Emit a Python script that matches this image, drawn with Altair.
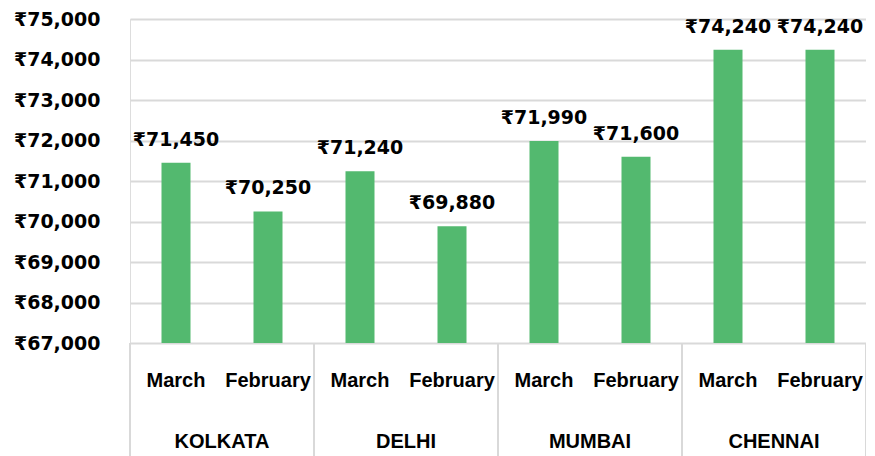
import altair as alt
import pandas as pd

cities = ["KOLKATA", "DELHI", "MUMBAI", "CHENNAI"]
months = ["March", "February"]
values = [71450, 70250, 71240, 69880, 71990, 71600, 74240, 74240]
y_ticks = [67000, 68000, 69000, 70000, 71000, 72000, 73000, 74000, 75000]

rows = []
for i, v in enumerate(values):
    rows.append({"idx": i, "city": cities[i // 2], "month": months[i % 2], "value": v,
                 "label": "₹" + f"{v:,}"})
df = pd.DataFrame(rows)
city_df = pd.DataFrame({"city": cities, "pos": [2 * c + 0.5 for c in range(len(cities))]})
sep_df = pd.DataFrame({"pos": [2 * c - 0.5 for c in range(len(cities) + 1)]})

TEXT_FONT = "Liberation Sans"
NUM_FONT = "DejaVu Sans"
GREEN = "#53B96F"
GRID = "#D9D9D9"

xscale = alt.Scale(domain=[-0.5, 7.5], nice=False, zero=False, padding=0)
yscale = alt.Scale(domain=[67000, 75000], nice=False, zero=False)

base = alt.Chart(df)

bars = base.mark_bar(color=GREEN, size=29, clip=True).encode(
    x=alt.X("idx:Q", scale=xscale, axis=None),
    y=alt.Y("value:Q", scale=yscale, title=None,
            axis=alt.Axis(values=y_ticks, labelExpr="'₹' + format(datum.value, ',')",
                          domain=False, ticks=False, labelPadding=30,
                          labelFont=NUM_FONT, labelFontSize=19, labelFontWeight="bold",
                          labelColor="#000000", gridColor=GRID, gridWidth=2)),
)

labels = base.mark_text(font=NUM_FONT, fontSize=19, fontWeight="bold", color="#000000",
                        baseline="alphabetic", dy=-17).encode(
    x=alt.X("idx:Q", scale=xscale),
    y=alt.Y("value:Q", scale=yscale),
    text="label:N",
)

month_text = base.mark_text(font=TEXT_FONT, fontSize=20, fontWeight="bold", color="#000000",
                            baseline="middle").encode(
    x=alt.X("idx:Q", scale=xscale),
    y=alt.value(362),
    text="month:N",
)

city_text = alt.Chart(city_df).mark_text(font=TEXT_FONT, fontSize=20, fontWeight="bold",
                                         color="#000000", baseline="middle").encode(
    x=alt.X("pos:Q", scale=xscale),
    y=alt.value(423),
    text="city:N",
)

seps = alt.Chart(sep_df).mark_rule(color=GRID, strokeWidth=2).encode(
    x=alt.X("pos:Q", scale=xscale),
    y=alt.value(324),
    y2=alt.value(440),
)

chart = alt.layer(bars, labels, month_text, city_text, seps).properties(
    width=736, height=324,
    autosize=alt.AutoSizeParams(type="none"),
    padding={"left": 122, "top": 11, "right": 0, "bottom": 113},
).configure_view(stroke=None).configure(background="white")

chart.save("out.html", embed_options={"renderer": "svg", "actions": False})
